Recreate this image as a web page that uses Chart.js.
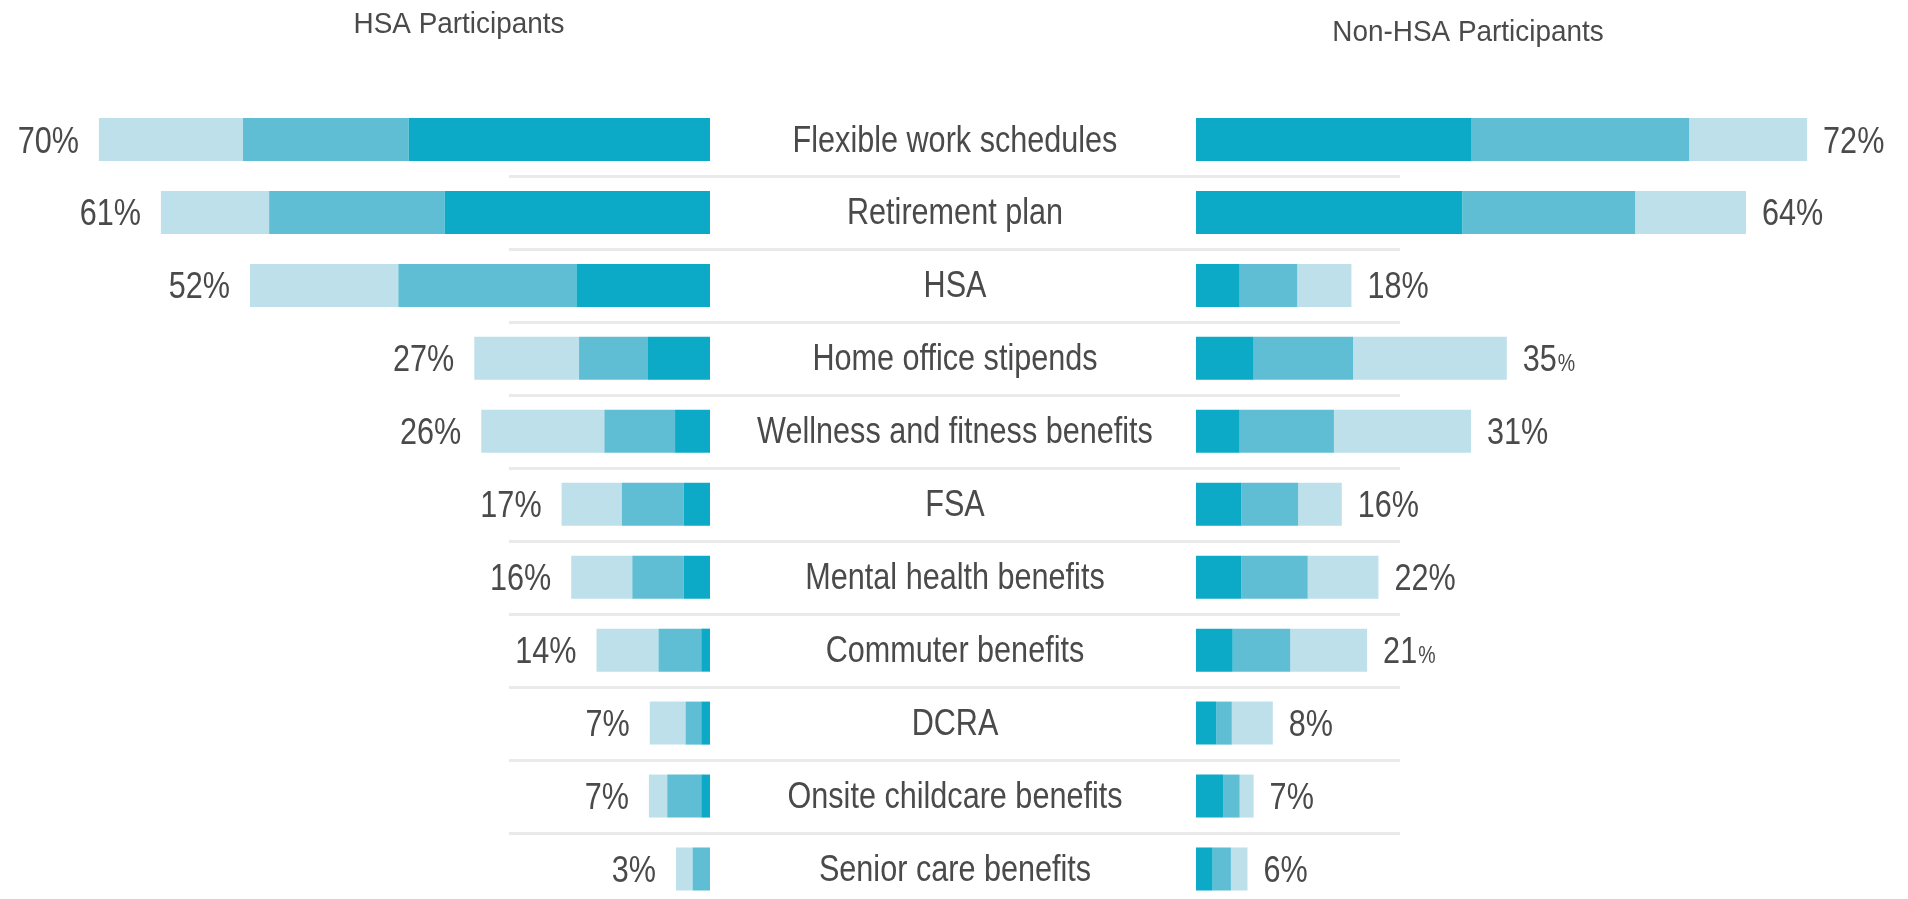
<!DOCTYPE html>
<html><head><meta charset="utf-8">
<script src="https://cdn.jsdelivr.net/npm/chart.js@4.4.1/dist/chart.umd.min.js"></script>
<style>
html,body{margin:0;padding:0;background:#fff;overflow:hidden;width:1908px;height:899px}
canvas{position:absolute;left:0;top:0}
</style></head><body>
<canvas id="leftChart" width="1908" height="899"></canvas>
<canvas id="rightChart" width="1908" height="899"></canvas>
<script>
const categories = ['Flexible work schedules','Retirement plan','HSA','Home office stipends','Wellness and fitness benefits','FSA','Mental health benefits','Commuter benefits','DCRA','Onsite childcare benefits','Senior care benefits'];

const hsaDark  = [34.5, 30.4, 15.3, 7.1, 4.0, 3.0, 3.0, 1.0, 1.0, 1.0, 0.0];
const hsaMid   = [19.0, 20.1, 20.4, 7.9, 8.1, 7.1, 5.9, 4.9, 1.8, 3.9, 2.0];
const hsaLight = [16.5, 12.4, 17.0, 12.0, 14.1, 6.9, 7.0, 7.1, 4.1, 2.1, 1.9];
const hsaTotalLabels = ['70%','61%','52%','27%','26%','17%','16%','14%','7%','7%','3%'];

const nonDark  = [31.5, 30.5, 5.0, 6.6, 5.0, 5.2, 5.2, 4.2, 2.3, 3.1, 1.9];
const nonMid   = [25.0, 19.8, 6.6, 11.4, 10.8, 6.5, 7.6, 6.6, 1.8, 1.9, 2.1];
const nonLight = [13.5, 12.7, 6.2, 17.6, 15.7, 5.0, 8.1, 8.8, 4.7, 1.6, 1.9];
const nonTotalLabels = ['72%','64%','18%','35%','31%','16%','22%','21%','8%','7%','6%'];
const nonSmallPercentSign = [false,false,false,true,false,false,false,true,false,false,false];

const titles = ['HSA Participants','Non-HSA Participants'];

const FONT = "'Liberation Sans', Arial, sans-serif";
const TEXT = '#4a4a4a';
const C_DARK = '#0caac6', C_MID = '#60bed4', C_LIGHT = '#bee0eb';
const PX_PER_UNIT = 8.73;
const LEFT_END = 710, RIGHT_START = 1196, LABEL_CX = 955;
const TOP = 139.5, BOTTOM_PAD = 30;
const SX = 0.85; // horizontal condensing of the narrow typeface

function drawText(ctx, text, x, y, size, align, sx){
  ctx.save();
  ctx.translate(x, y); ctx.scale(sx, 1);
  ctx.font = size + 'px ' + FONT; ctx.textAlign = align; ctx.textBaseline = 'alphabetic';
  ctx.fillText(text, 0, 0);
  const w = ctx.measureText(text).width * sx;
  ctx.restore();
  return w;
}

function ds(data, color){ return {data, backgroundColor: color, borderWidth: 0, barPercentage: 0.59, categoryPercentage: 1.0, clip: false}; }

function valueLabels(id, labels, small, side, gap){
  return { id, afterDatasetsDraw(chart){
    const ctx = chart.ctx, xs = chart.scales.x, ys = chart.scales.y;
    const sets = chart.data.datasets.map(d => d.data);
    ctx.save(); ctx.fillStyle = TEXT;
    labels.forEach((lab, i) => {
      const tot = sets.reduce((s, a) => s + a[i], 0);
      const x = xs.getPixelForValue(tot);
      const y = ys.getPixelForValue(i) + 13;
      if (side === 'left') { drawText(ctx, lab, x - gap, y, 36, 'right', SX); }
      else if (small && small[i]) {
        const num = lab.replace('%','');
        const w = drawText(ctx, num, x + gap, y, 36, 'left', SX);
        drawText(ctx, '%', x + gap + w + 1, y, 23, 'left', SX);
      } else drawText(ctx, lab, x + gap, y, 36, 'left', SX);
    });
    ctx.restore();
  }};
}

function titlePlugin(id, text, cx, baseline){
  return { id, afterDraw(chart){
    const ctx = chart.ctx; ctx.save(); ctx.fillStyle = TEXT;
    drawText(ctx, text, cx, baseline, 30, 'center', 0.93);
    ctx.restore();
  }};
}

const categoryLabels = { id: 'categoryLabels', afterDatasetsDraw(chart){
  const ctx = chart.ctx, ys = chart.scales.y;
  ctx.save(); ctx.fillStyle = TEXT;
  chart.data.labels.forEach((lab, i) => drawText(ctx, lab, LABEL_CX, ys.getPixelForValue(i) + 12, 36, 'center', SX));
  ctx.restore();
}};

const separators = { id: 'separators', beforeDatasetsDraw(chart){
  const ctx = chart.ctx, ys = chart.scales.y;
  ctx.save(); ctx.strokeStyle = '#eaeaea'; ctx.lineWidth = 3;
  for (let i = 0; i < chart.data.labels.length - 1; i++) {
    const y = Math.round((ys.getPixelForValue(i) + ys.getPixelForValue(i + 1)) / 2) + 0.5;
    ctx.beginPath(); ctx.moveTo(509, y); ctx.lineTo(1400, y); ctx.stroke();
  }
  ctx.restore();
}};

new Chart(document.getElementById('leftChart'), {
  type: 'bar',
  data: { labels: categories, datasets: [ds(hsaDark, C_DARK), ds(hsaMid, C_MID), ds(hsaLight, C_LIGHT)] },
  options: {
    indexAxis: 'y', responsive: false, animation: false,
    layout: { padding: { left: 0, right: 1908 - LEFT_END, top: TOP, bottom: BOTTOM_PAD } },
    plugins: { legend: { display: false }, tooltip: { enabled: false } },
    scales: {
      x: { type: 'linear', stacked: true, reverse: true, min: 0, max: LEFT_END / PX_PER_UNIT, display: false },
      y: { type: 'category', stacked: true, offset: false, display: false }
    }
  },
  plugins: [valueLabels('vlL', hsaTotalLabels, null, 'left', 20), titlePlugin('tL', titles[0], 459, 33)]
});

new Chart(document.getElementById('rightChart'), {
  type: 'bar',
  data: { labels: categories, datasets: [ds(nonDark, C_DARK), ds(nonMid, C_MID), ds(nonLight, C_LIGHT)] },
  options: {
    indexAxis: 'y', responsive: false, animation: false,
    layout: { padding: { left: RIGHT_START, right: 0, top: TOP, bottom: BOTTOM_PAD } },
    plugins: { legend: { display: false }, tooltip: { enabled: false } },
    scales: {
      x: { type: 'linear', stacked: true, min: 0, max: (1908 - RIGHT_START) / PX_PER_UNIT, display: false },
      y: { type: 'category', stacked: true, offset: false, display: false }
    }
  },
  plugins: [separators, categoryLabels, valueLabels('vlR', nonTotalLabels, nonSmallPercentSign, 'right', 16), titlePlugin('tR', titles[1], 1468, 41)]
});
</script>
</body></html>
